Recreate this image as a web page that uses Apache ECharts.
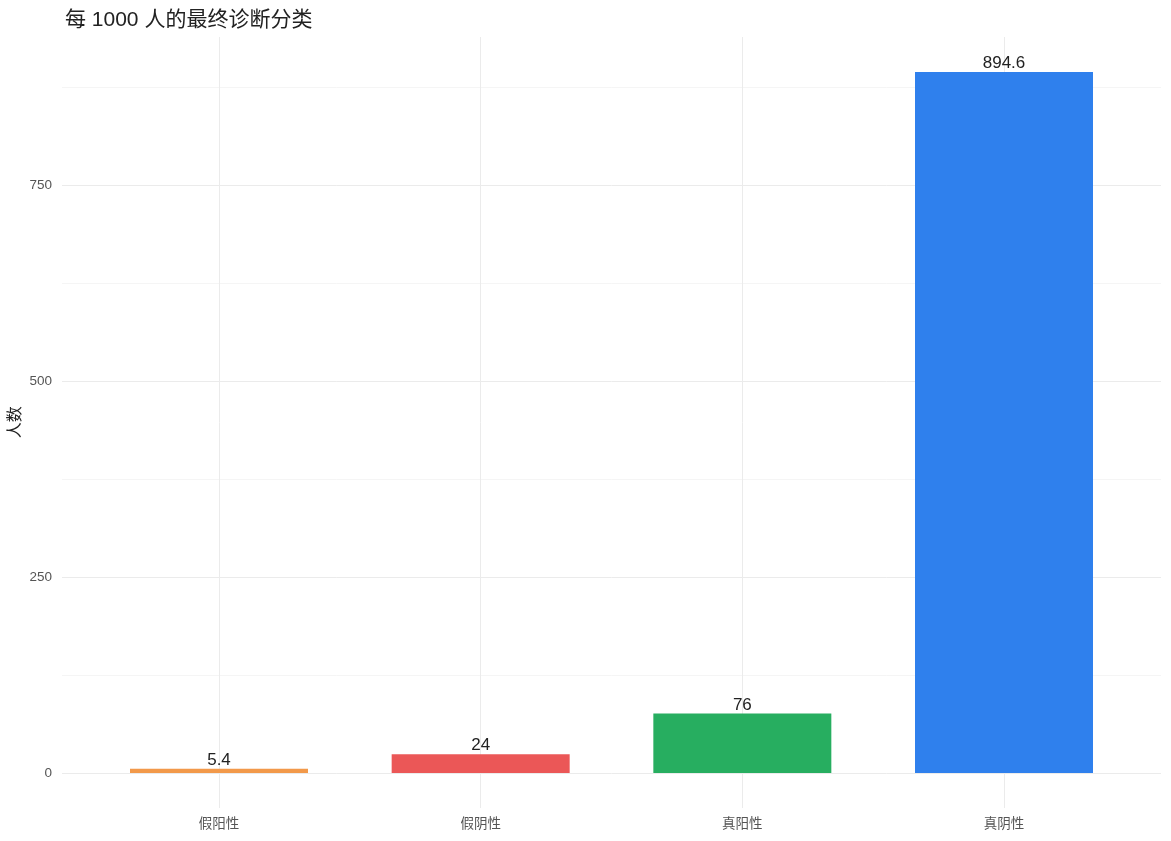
<!DOCTYPE html>
<html><head><meta charset="utf-8">
<script src="https://cdn.jsdelivr.net/npm/echarts@6/dist/echarts.min.js"></script>
<style>html,body{margin:0;padding:0;background:#fff}#c{width:1171px;height:841px}</style>
</head><body><div id="c"></div>
<script>
const categories = ['假阳性', '假阴性', '真阳性', '真阴性'];
const values = [5.4, 24, 76, 894.6];
const colors = ['#F2994A', '#EB5757', '#27AE60', '#2F80ED'];
const yTicks = [0, 250, 500, 750];

const FONT = '"Liberation Sans", "Noto Sans CJK SC", sans-serif';
const chart = echarts.init(document.getElementById('c'), null, {renderer: 'canvas'});
chart.setOption({
  backgroundColor: '#fff',
  animation: false,
  title: {
    text: '每 1000 人的最终诊断分类',
    left: 60, top: 5,
    textStyle: {fontSize: 21, fontWeight: 'normal', color: '#222', fontFamily: FONT}
  },
  grid: [
    {left: 62, right: 10, top: -124.4, bottom: -128, containLabel: false, outerBoundsMode: 'none'},
    {left: 219, right: 167, top: 37, bottom: 33, containLabel: false, outerBoundsMode: 'none'}
  ],
  xAxis: [
    {gridIndex: 0, type: 'value', min: 0, max: 1, show: false},
    {gridIndex: 1, type: 'category', data: categories, boundaryGap: false,
     axisLine: {show: false}, axisTick: {show: false},
     axisLabel: {margin: 10, fontSize: 13.5, color: '#555', fontFamily: FONT},
     splitLine: {show: true, lineStyle: {color: '#ebebeb', width: 1}}}
  ],
  yAxis: [
    {gridIndex: 0, type: 'value', min: -250, max: 1144.6, interval: 250,
     name: '人数', nameLocation: 'middle', nameGap: 38, nameMoveOverlap: false,
     nameTextStyle: {fontSize: 16, color: '#222', fontFamily: FONT},
     axisLine: {show: false}, axisTick: {show: false},
     axisLabel: {margin: 10, fontSize: 13.5, color: '#555', fontFamily: FONT,
       formatter: v => (yTicks.indexOf(v) >= 0 ? String(v) : '')},
     splitLine: {show: true, lineStyle: {color: '#ebebeb', width: 1}},
     minorTick: {show: false, splitNumber: 2},
     minorSplitLine: {show: true, lineStyle: {color: '#f5f5f5', width: 1}}},
    {gridIndex: 1, type: 'value', min: -44.73, max: 939.33, show: false, splitLine: {show: false}}
  ],
  series: [{
    type: 'bar',
    xAxisIndex: 1, yAxisIndex: 1,
    barWidth: 178,
    clip: false,
    data: values.map((v, i) => ({value: v, itemStyle: {color: colors[i]}})),
    label: {show: true, position: 'top', distance: 0, fontSize: 17, color: '#222', fontFamily: FONT,
      formatter: p => String(p.value)}
  }]
});
</script>
</body></html>
